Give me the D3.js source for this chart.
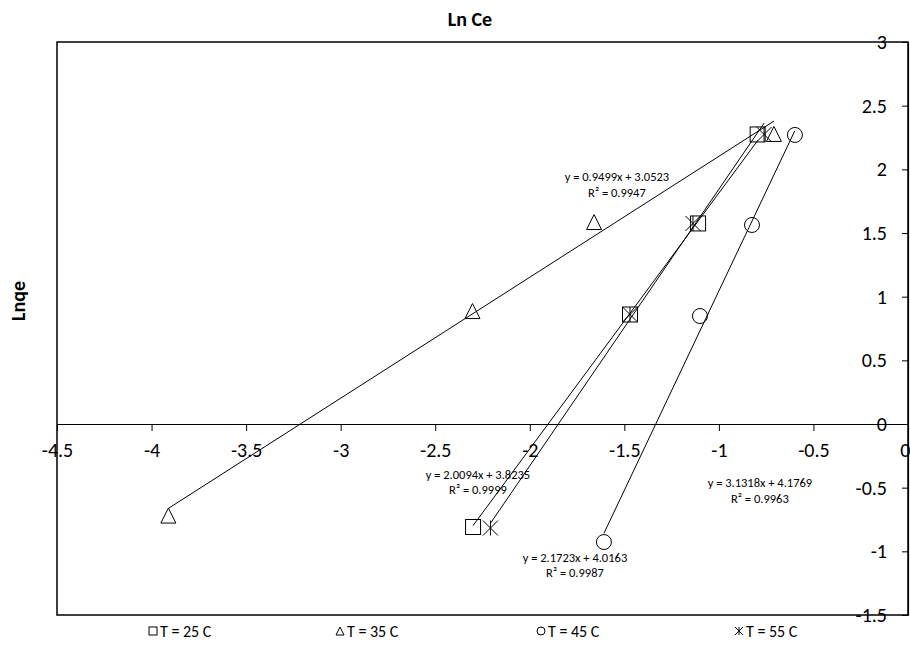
<!DOCTYPE html>
<html><head><meta charset="utf-8">
<script src="https://cdn.jsdelivr.net/npm/d3@7"></script>
<style>
body{margin:0;background:#fff;}
text{font-family:Carlito,"Liberation Sans Narrow","Liberation Sans",Arial,sans-serif;fill:#000;}
</style></head>
<body>
<svg id="chart" width="910" height="647"></svg>
<script>
// ---- data ----
const seriesNames = ["T = 25 C", "T = 35 C", "T = 45 C", "T = 55 C"];
const seriesSymbols = ["square", "triangle", "circle", "star"];
const lnCe25 = [-0.795, -1.110, -1.470, -2.300];
const lnqe25 = [2.274, 1.575, 0.860, -0.809];
const lnCe35 = [-0.709, -1.660, -2.303, -3.911];
const lnqe35 = [2.278, 1.586, 0.887, -0.719];
const lnCe45 = [-0.598, -0.825, -1.100, -1.608];
const lnqe45 = [2.270, 1.563, 0.848, -0.927];
const lnCe55 = [-0.761, -1.137, -1.470, -2.208];
const lnqe55 = [2.274, 1.575, 0.860, -0.817];
const slopes = [2.0094, 0.9499, 3.1318, 2.1723];
const intercepts = [3.8235, 3.0523, 4.1769, 4.0163];
const r2 = ["0.9999", "0.9947", "0.9963", "0.9987"];
const xTicks = [-4.5, -4, -3.5, -3, -2.5, -2, -1.5, -1, -0.5, 0];
const yTicks = [-1.5, -1, -0.5, 0, 0.5, 1, 1.5, 2, 2.5, 3];
// label anchors (data coordinates) for trendline equations
const eqAnchorX = [-2.274, -1.539, -0.783, -1.761];
const eqAnchorY = [-0.393, 1.940, -0.463, -1.045];

const xs = [lnCe25, lnCe35, lnCe45, lnCe55];
const ys = [lnqe25, lnqe35, lnqe45, lnqe55];

const svg = d3.select("#chart");
svg.append("rect").attr("width",910).attr("height",647).attr("fill","#fff");

const L = 57, R = 908, T = 42, B = 615;
const x = d3.scaleLinear().domain([-4.5, 0]).range([L, R]);
const y = d3.scaleLinear().domain([-1.5, 3]).range([B, T]);

// plot border
svg.append("rect").attr("x",L).attr("y",T).attr("width",R-L).attr("height",B-T)
  .attr("fill","none").attr("stroke","#000").attr("stroke-width",1.5);

// x axis at y=0
const fmt = d => String(d);
const gx = svg.append("g").attr("transform",`translate(0,${y(0)})`)
  .call(d3.axisBottom(x).tickValues(xTicks).tickFormat(fmt).tickSize(7).tickSizeOuter(0).tickPadding(12));
gx.select(".domain").attr("stroke","#000").attr("stroke-width",1.2);
gx.selectAll(".tick line").attr("stroke","#000");
gx.selectAll("text").style("font-size","20px").attr("fill","#000");
// keep the last label inside the picture
gx.selectAll(".tick").filter(d => d === 0).select("text").attr("text-anchor","end").attr("x",2);

// y axis at x=0
const gy = svg.append("g").attr("transform",`translate(${x(0)},0)`)
  .call(d3.axisLeft(y).tickValues(yTicks).tickFormat(fmt).tickSize(6).tickSizeOuter(0).tickPadding(15));
gy.select(".domain").attr("stroke","#000").attr("stroke-width",1.2);
gy.selectAll(".tick line").attr("stroke","#000");
gy.selectAll("text").style("font-size","20px").attr("fill","#000");

// titles
svg.append("text").attr("x",470).attr("y",26).attr("text-anchor","middle")
  .style("font-size","20px").style("font-weight","bold").text("Ln Ce");
svg.append("text").attr("transform","translate(25,301) rotate(-90)").attr("text-anchor","middle")
  .style("font-size","20px").style("font-weight","bold").text("Lnqe");

// marker drawing
function marker(g, type, s) {
  const h = s/2;
  if (type === "square") {
    g.append("rect").attr("x",-h).attr("y",-h).attr("width",s).attr("height",s);
  } else if (type === "triangle") {
    g.append("path").attr("d",`M0,${-h}L${h},${h}L${-h},${h}Z`);
  } else if (type === "circle") {
    g.append("circle").attr("r",h);
  } else {
    g.append("path").attr("d",`M${-h},${-h}L${h},${h}M${-h},${h}L${h},${-h}M0,${-h}L0,${h}`);
  }
  g.attr("fill","none").attr("stroke","#000").attr("stroke-width",1);
}

// points
seriesSymbols.forEach((sym, i) => {
  xs[i].forEach((xv, j) => {
    const g = svg.append("g").attr("transform",`translate(${x(xv)},${y(ys[i][j])})`);
    marker(g, sym, 15);
  });
});

// trendlines
seriesSymbols.forEach((sym, i) => {
  const [x0, x1] = d3.extent(xs[i]);
  const line = d3.line().x(d => x(d)).y(d => y(slopes[i]*d + intercepts[i]));
  svg.append("path").attr("d", line([x0, x1])).attr("fill","none")
    .attr("stroke","#000").attr("stroke-width",1);
});

// equation labels
seriesSymbols.forEach((sym, i) => {
  const cx = x(eqAnchorX[i]), cy = y(eqAnchorY[i]);
  svg.append("text").attr("x",cx).attr("y",cy+4.5).attr("text-anchor","middle")
    .style("font-size","12.5px")
    .text(`y = ${slopes[i].toFixed(4)}x + ${intercepts[i].toFixed(4)}`);
  svg.append("text").attr("x",cx).attr("y",cy+20).attr("text-anchor","middle")
    .style("font-size","12.5px").text(`R² = ${r2[i]}`);
});

// legend
const legX = [153, 340, 541, 739];
seriesNames.forEach((name, i) => {
  const g = svg.append("g").attr("transform",`translate(${legX[i]},631)`);
  marker(g.append("g"), seriesSymbols[i], 8);
  g.append("text").attr("x",7).attr("y",5.5).style("font-size","16px").text(name);
});
</script>
</body></html>
